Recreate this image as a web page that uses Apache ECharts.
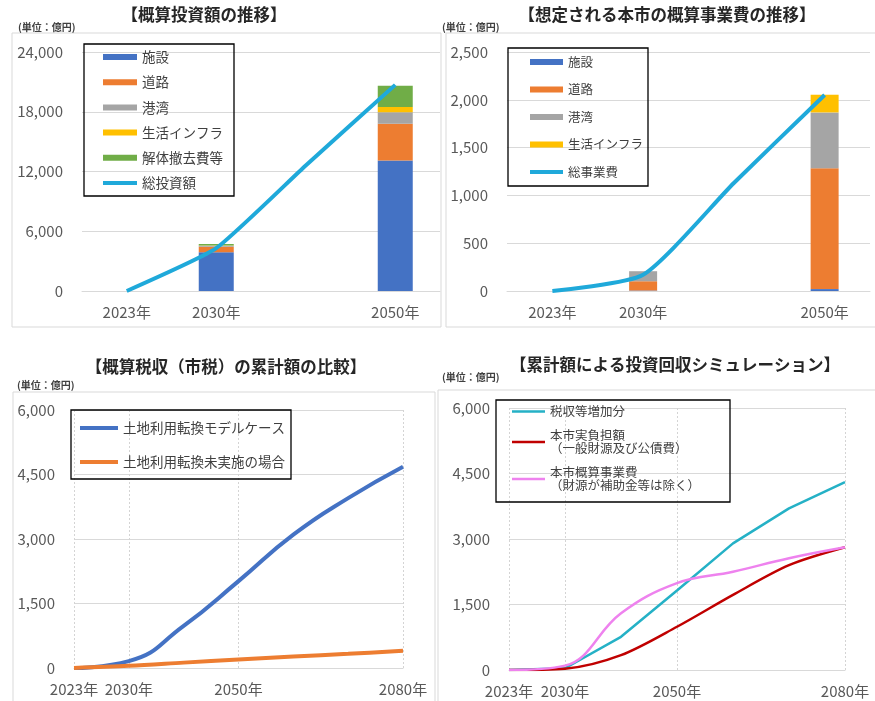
<!DOCTYPE html>
<html><head><meta charset="utf-8">
<script src="https://cdn.jsdelivr.net/npm/echarts@6/dist/echarts.min.js"></script>
<style>html,body{margin:0;padding:0;background:#fff}#c{width:875px;height:701px}</style>
</head><body><div id="c"></div>
<script>
// ---- Panel 1: 概算投資額の推移 ----
const invCategories = ['2023年', '2030年', '2040年', '2050年'];
const invShisetsu = [null, 3900, null, 13100];
const invDoro     = [null, 550, null, 3700];
const invKowan    = [null, 90, null, 1140];
const invInfra    = [null, 40, null, 540];
const invKaitai   = [null, 140, null, 2130];
const invTotal    = [0, 4300, 12600, 20700];

// ---- Panel 2: 想定される本市の概算事業費の推移 ----
const costCategories = ['2023年', '2030年', '2040年', '2050年'];
const costShisetsu = [null, 5, null, 20];
const costDoro     = [null, 97, null, 1265];
const costKowan    = [null, 105, null, 583];
const costInfra    = [null, 0, null, 185];
const costTotal    = [0, 170, 1130, 2050];

// ---- Panel 3: 概算税収（市税）の累計額の比較 ----
const taxCategories = ['2023年', '2030年', '2040年', '2050年', '2060年', '2070年', '2080年'];
const taxModel = [0, 160, 980, 2020, 3100, 3950, 4680];
const taxNone  = [0, 50, 125, 200, 265, 330, 400];

// ---- Panel 4: 累計額による投資回収シミュレーション ----
const simCategories = ['2023年', '2030年', '2040年', '2050年', '2060年', '2070年', '2080年'];
const simZeishu = [0, 40, 760, 1820, 2900, 3700, 4300];
const simFutan  = [0, 30, 340, 990, 1720, 2400, 2810];
const simJigyo  = [0, 100, 1300, 1990, 2250, 2560, 2810];

const FONT = '"Noto Sans CJK JP", "Noto Sans", sans-serif';
const C = {blue:'#4472C4', orange:'#ED7D31', gray:'#A5A5A5', yellow:'#FFC000', green:'#70AD47',
           cyan:'#1FA9DA', teal:'#25B1C6', red:'#C00000', violet:'#EE82EE'};
const gridLine = {show:true, lineStyle:{color:'#d9d9d9', width:1}};
const fmt = v => v.toLocaleString('en-US');

function yAxis(grid, max, interval){
  return {type:'value', gridIndex:grid, min:0, max:max, interval:interval,
    axisLine:{show:false}, axisTick:{show:false}, splitLine:gridLine,
    axisLabel:{formatter:fmt, color:'#595959', fontSize:15, fontFamily:FONT, margin:19}};
}
function xCat(grid, cats, showIdx, boundary, vLines){
  return {type:'category', gridIndex:grid, data:cats, boundaryGap:boundary,
    axisLine:{show:true, lineStyle:{color:'#d9d9d9'}}, axisTick:{show:false},
    axisLabel:{interval:(i)=>showIdx.includes(i), color:'#595959', fontSize:15, fontFamily:FONT, margin:14},
    splitLine: vLines ? {show:true, interval:(i)=>vLines.includes(i), lineStyle:{color:'#d4d4d4', type:[2,2]}} : {show:false}};
}

const legendText = (size) => ({fontSize:size, color:'#404040', fontFamily:FONT, lineHeight:14});
const titleFont = 'bold 16.5px ' + FONT;
const unitFont = 'bold 10px ' + FONT;

const option = {
  animation:false,
  backgroundColor:'#fff',
  graphic:[
    {type:'rect', shape:{x:12, y:33, width:429, height:294}, style:{fill:'none', stroke:'#d9d9d9', lineWidth:1}, z:-10},
    {type:'rect', shape:{x:446, y:33, width:440, height:294}, style:{fill:'none', stroke:'#d9d9d9', lineWidth:1}, z:-10},
    {type:'rect', shape:{x:13, y:392, width:422, height:330}, style:{fill:'none', stroke:'#d9d9d9', lineWidth:1}, z:-10},
    {type:'rect', shape:{x:438, y:390, width:450, height:330}, style:{fill:'none', stroke:'#d9d9d9', lineWidth:1}, z:-10},
    {type:'text', x:204, y:15, style:{text:'【概算投資額の推移】', font:titleFont, fill:'#262626', align:'center', verticalAlign:'middle'}},
    {type:'text', x:667, y:15, style:{text:'【想定される本市の概算事業費の推移】', font:titleFont, fill:'#262626', align:'center', verticalAlign:'middle'}},
    {type:'text', x:226, y:367, style:{text:'【概算税収（市税）の累計額の比較】', font:titleFont, fill:'#262626', align:'center', verticalAlign:'middle'}},
    {type:'text', x:675, y:365, style:{text:'【累計額による投資回収シミュレーション】', font:titleFont, fill:'#262626', align:'center', verticalAlign:'middle'}},
    {type:'text', x:18, y:27, style:{text:'(単位：億円)', font:unitFont, fill:'#404040', align:'left', verticalAlign:'middle'}},
    {type:'text', x:442, y:27, style:{text:'(単位：億円)', font:unitFont, fill:'#404040', align:'left', verticalAlign:'middle'}},
    {type:'text', x:17, y:385, style:{text:'(単位：億円)', font:unitFont, fill:'#404040', align:'left', verticalAlign:'middle'}},
    {type:'text', x:442, y:377, style:{text:'(単位：億円)', font:unitFont, fill:'#404040', align:'left', verticalAlign:'middle'}}
  ],
  grid:[
    {left:82, right:435, top:52, bottom:410},
    {left:507, right:5, top:52, bottom:410},
    {left:74, right:472, top:410, bottom:33},
    {left:509, right:30, top:408, bottom:31}
  ],
  xAxis:[
    xCat(0, invCategories, [0,1,3], true, null),
    xCat(1, costCategories, [0,1,3], true, null),
    xCat(2, taxCategories, [0,1,3,6], false, [0,1,3,6]),
    xCat(3, simCategories, [0,1,3,6], false, [0,1,3,6])
  ],
  yAxis:[
    yAxis(0, 24000, 6000),
    yAxis(1, 2500, 500),
    yAxis(2, 6000, 1500),
    yAxis(3, 6000, 1500)
  ],
  legend:[
    {left:84, top:44, orient:'vertical', selectedMode:false, padding:[6,11,6,19],
     itemWidth:34, itemHeight:6, itemGap:11.2, borderColor:'#000', borderWidth:1.3, symbolKeepAspect:true,
     textStyle:legendText(13.5),
     data:[{name:'施設',icon:'rect'},{name:'道路',icon:'rect'},{name:'港湾',icon:'rect'},{name:'生活インフラ',icon:'rect'},{name:'解体撤去費等',icon:'rect'},
           {name:'総投資額', icon:'path://M0,0H34V4H0Z'}]},
    {left:508, top:48, orient:'vertical', selectedMode:false, padding:[7,5,7,22],
     itemWidth:33, itemHeight:6, itemGap:13.5, borderColor:'#000', borderWidth:1.3, symbolKeepAspect:true,
     textStyle:legendText(12.5),
     data:[{name:'施設',icon:'rect'},{name:'道路',icon:'rect'},{name:'港湾',icon:'rect'},{name:'生活インフラ',icon:'rect'},
           {name:'総事業費', icon:'path://M0,0H33V4H0Z'}]},
    {left:71, top:410, orient:'vertical', selectedMode:false, padding:[10,6,9,9],
     itemWidth:38, itemHeight:14, itemGap:18, borderColor:'#000', borderWidth:1.3, symbolKeepAspect:true,
     textStyle:{fontSize:13.5, color:'#404040', fontFamily:FONT, lineHeight:16},
     data:[{name:'土地利用転換モデルケース', icon:'path://M0,0H38V4H0Z'},
           {name:'土地利用転換未実施の場合', icon:'path://M0,0H38V4H0Z'}]},
    {left:496, top:400, orient:'vertical', selectedMode:false, padding:[5,30,10,16],
     itemWidth:33, itemHeight:13, itemGap:11, borderColor:'#000', borderWidth:1.3, symbolKeepAspect:true,
     textStyle:{fontSize:12.5, color:'#404040', fontFamily:FONT, lineHeight:13},
     formatter:(n)=>({'税収等増加分':'税収等増加分',
        '本市実負担額':'本市実負担額\n（一般財源及び公債費）',
        '本市概算事業費':'本市概算事業費\n（財源が補助金等は除く）'})[n],
     data:[{name:'税収等増加分', icon:'path://M0,0H33V2.5H0Z'},
           {name:'本市実負担額', icon:'path://M0,0H33V2.5H0Z'},
           {name:'本市概算事業費', icon:'path://M0,0H33V2.5H0Z'}]}
  ],
  series:[
    {name:'施設', type:'bar', stack:'p1', xAxisIndex:0, yAxisIndex:0, barWidth:35, data:invShisetsu, itemStyle:{color:C.blue}},
    {name:'道路', type:'bar', stack:'p1', xAxisIndex:0, yAxisIndex:0, data:invDoro, itemStyle:{color:C.orange}},
    {name:'港湾', type:'bar', stack:'p1', xAxisIndex:0, yAxisIndex:0, data:invKowan, itemStyle:{color:C.gray}},
    {name:'生活インフラ', type:'bar', stack:'p1', xAxisIndex:0, yAxisIndex:0, data:invInfra, itemStyle:{color:C.yellow}},
    {name:'解体撤去費等', type:'bar', stack:'p1', xAxisIndex:0, yAxisIndex:0, data:invKaitai, itemStyle:{color:C.green}},
    {name:'総投資額', type:'line', xAxisIndex:0, yAxisIndex:0, data:invTotal, smooth:0.15, symbol:'none', z:5,
     lineStyle:{color:C.cyan, width:4}, itemStyle:{color:C.cyan}},

    {name:'施設', type:'bar', stack:'p2', xAxisIndex:1, yAxisIndex:1, barWidth:28, data:costShisetsu, itemStyle:{color:C.blue}},
    {name:'道路', type:'bar', stack:'p2', xAxisIndex:1, yAxisIndex:1, data:costDoro, itemStyle:{color:C.orange}},
    {name:'港湾', type:'bar', stack:'p2', xAxisIndex:1, yAxisIndex:1, data:costKowan, itemStyle:{color:C.gray}},
    {name:'生活インフラ', type:'bar', stack:'p2', xAxisIndex:1, yAxisIndex:1, data:costInfra, itemStyle:{color:C.yellow}},
    {name:'総事業費', type:'line', xAxisIndex:1, yAxisIndex:1, data:costTotal, smooth:0.2, symbol:'none', z:5,
     lineStyle:{color:C.cyan, width:4}, itemStyle:{color:C.cyan}},

    {name:'土地利用転換モデルケース', type:'line', xAxisIndex:2, yAxisIndex:2, data:taxModel, smooth:0.5, symbol:'none',
     lineStyle:{color:C.blue, width:4}, itemStyle:{color:C.blue}},
    {name:'土地利用転換未実施の場合', type:'line', xAxisIndex:2, yAxisIndex:2, data:taxNone, smooth:0.35, symbol:'none',
     lineStyle:{color:C.orange, width:4}, itemStyle:{color:C.orange}},

    {name:'税収等増加分', type:'line', xAxisIndex:3, yAxisIndex:3, data:simZeishu, smooth:false, symbol:'none',
     lineStyle:{color:C.teal, width:2.5}, itemStyle:{color:C.teal}},
    {name:'本市実負担額', type:'line', xAxisIndex:3, yAxisIndex:3, data:simFutan, smooth:0.3, symbol:'none',
     lineStyle:{color:C.red, width:2.5}, itemStyle:{color:C.red}},
    {name:'本市概算事業費', type:'line', xAxisIndex:3, yAxisIndex:3, data:simJigyo, smooth:0.4, symbol:'none',
     lineStyle:{color:C.violet, width:2.5}, itemStyle:{color:C.violet}}
  ]
};
const chart = echarts.init(document.getElementById('c'), null, {renderer:'canvas'});
chart.setOption(option);
</script></body></html>
